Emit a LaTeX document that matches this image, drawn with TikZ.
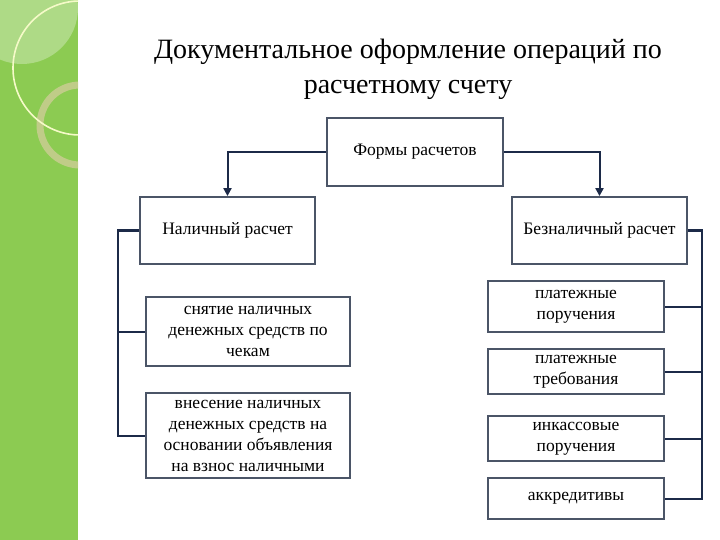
\documentclass[tikz,border=0pt]{standalone}
\usepackage{fontspec}
\setmainfont{Liberation Serif}
\usetikzlibrary{arrows.meta}
\definecolor{grn}{HTML}{8CCB52}
\definecolor{bx}{HTML}{4B5567}
\definecolor{ln}{HTML}{1C2A48}
\tikzset{
 box/.style={draw=bx,line width=1.8pt,align=center,font=\fontsize{17.5}{21}\selectfont,inner sep=0pt},
 con/.style={draw=ln,line width=2pt},
 arr/.style={con,-{Triangle[length=8pt,width=8pt]}}
}
\begin{document}
\begin{tikzpicture}[x=1pt,y=-1pt]
\useasboundingbox (0,0) rectangle (720,540);
\fill[white] (0,0) rectangle (720,540);
\begin{scope}
\clip (0,0) rectangle (78,540);
\fill[grn] (0,0) rectangle (78,540);
\fill[white,opacity=0.3] (22,8) circle (56);
\draw[color={rgb,255:red,205;green,205;blue,150},opacity=0.8,line width=7pt] (80,125) circle (40);
\draw[color={rgb,255:red,245;green,250;blue,200},line width=1.6pt] (80,68) circle (67);
\end{scope}
\node[align=center,font=\fontsize{28}{35}\selectfont] (title) at (408,69) {Документальное оформление операций по\\расчетному счету};
\node[box,minimum width=176,minimum height=68] (f) at (415,152) {Формы расчетов};
\node[box,minimum width=175,minimum height=67] (n) at (227.5,230.5) {Наличный расчет};
\node[box,minimum width=175,minimum height=67] (b) at (599.5,230.5) {Безналичный расчет};
\node[box,minimum width=204,minimum height=69] (s) at (248,331.5) {снятие наличных\\денежных средств по\\чекам};
\node[box,minimum width=204,minimum height=85] (v) at (248,435.5) {внесение наличных\\денежных средств на\\основании объявления\\на взнос наличными};
\node[box,minimum width=176,minimum height=51] (p1) at (576,306.5) {платежные\\поручения};
\node[box,minimum width=176,minimum height=45] (p2) at (576,371.5) {платежные\\требования};
\node[box,minimum width=176,minimum height=45] (p3) at (576,438.5) {инкассовые\\поручения};
\node[box,minimum width=176,minimum height=41] (p4) at (576,498.5) {аккредитивы};
\draw[arr] (f.west) -| (n.north);
\draw[arr] (f.east) -| (b.north);
\coordinate (lb) at (118,0);
\draw[con] (n.west) -| (lb |- v.west) -- (v.west);
\draw[con] (lb |- s.west) -- (s.west);
\coordinate (rb) at (702,0);
\draw[con] (b.east) -| (rb |- p4.east) -- (p4.east);
\draw[con] (rb |- p1.east) -- (p1.east);
\draw[con] (rb |- p2.east) -- (p2.east);
\draw[con] (rb |- p3.east) -- (p3.east);
\end{tikzpicture}
\end{document}
